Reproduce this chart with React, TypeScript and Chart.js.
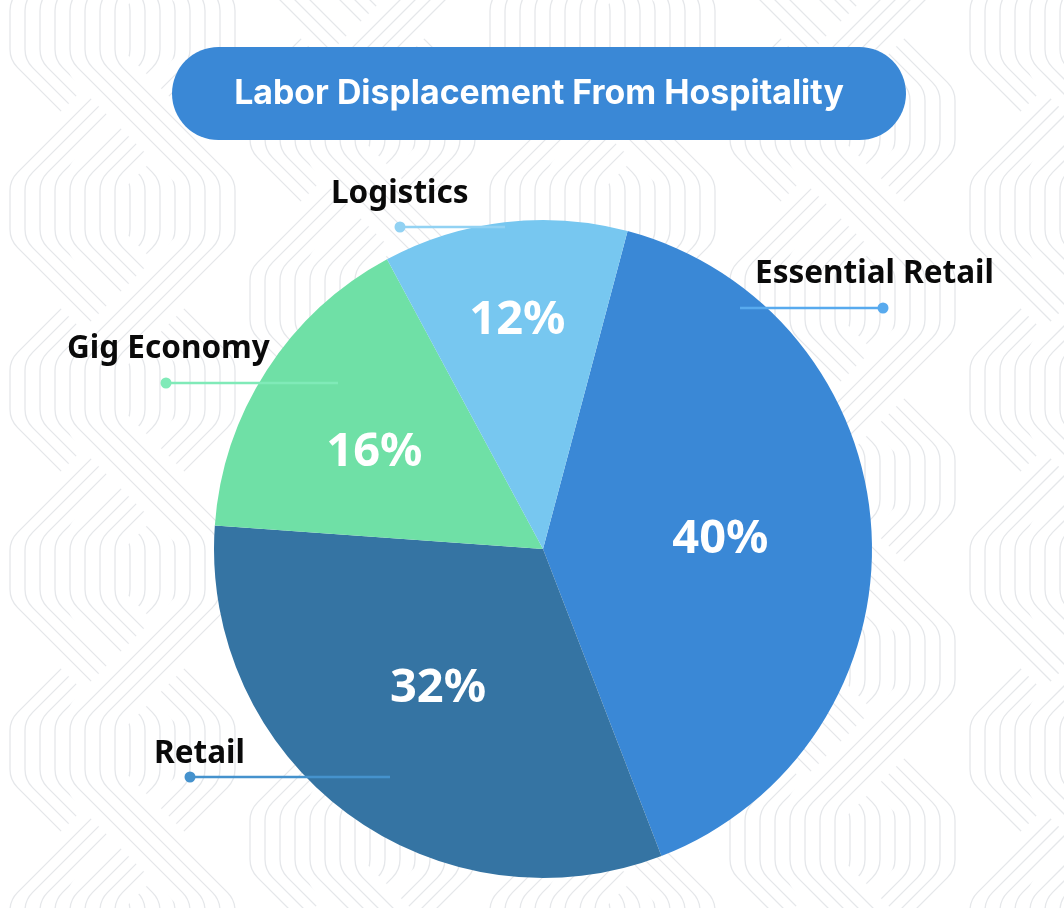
import { useEffect, useRef } from 'react';
import { Chart, registerables } from 'chart.js';

Chart.register(...registerables);

const TITLE = 'Labor Displacement From Hospitality';
const categories = ['Essential Retail', 'Retail', 'Gig Economy', 'Logistics'];
const shares = [40, 32, 16, 12];
const valueLabels = ['40%', '32%', '16%', '12%'];
const sliceColors = ['#3a88d6', '#3574a3', '#6fe0a6', '#77c7f0'];
const leaderColors = ['#58aaee', '#4592cd', '#80eab8', '#92d2f3'];

// label layout relative to pie centre (px at reference radius 329)
const REF_R = 329;
const valueRadiusFrac = [0.54, 0.53, 0.59, 0.7];
const valueAngleShift = [0, 0.5, -3.2, 0.3];
const leaderLayout = [
  { tx: 212, ty: -266, lx1: 197, lx2: 340, ly: -241, dotEnd: true },
  { tx: -389, ty: 214, lx1: -353, lx2: -153, ly: 228, dotEnd: false },
  { tx: -476, ty: -191, lx1: -377, lx2: -205, ly: -166, dotEnd: false },
  { tx: -212, ty: -346, lx1: -143, lx2: -38, ly: -322, dotEnd: false },
];

function roundedPath(ctx: CanvasRenderingContext2D, pts: number[][], r: number) {
  ctx.beginPath();
  ctx.moveTo(pts[0][0], pts[0][1]);
  for (let i = 1; i < pts.length - 1; i++) {
    ctx.arcTo(pts[i][0], pts[i][1], pts[i + 1][0], pts[i + 1][1], r);
  }
  ctx.lineTo(pts[pts.length - 1][0], pts[pts.length - 1][1]);
}

function drawPattern(ctx: CanvasRenderingContext2D, w: number, h: number) {
  ctx.save();
  ctx.fillStyle = '#ffffff';
  ctx.fillRect(0, 0, w, h);
  const col = 60;
  const V = 60;
  const S = 2 * col;
  const period = 2 * (V + S);
  const gap = 15;
  const nGroups = Math.ceil(w / (4 * col)) + 2;
  for (let g = -1; g < nGroups; g++) {
    for (let pr = 0; pr < 2; pr++) {
      const x0 = g * 4 * col + pr * col + 32.5;
      const phase = pr * (period / 2) - period + ((g % 2) * period) / 4;
      for (let s = 0; s < 2; s++) {
        const pts: number[][] = [];
        let y = phase - period;
        let x = s === 0 ? x0 : x0 + S;
        let d = s === 0 ? 1 : -1;
        pts.push([x, y]);
        while (y < h + period) {
          y += V;
          pts.push([x, y]);
          x += d * S;
          y += S;
          pts.push([x, y]);
          d = -d;
        }
        roundedPath(ctx, pts, 26);
        ctx.strokeStyle = '#ffffff';
        ctx.lineWidth = gap * 3 + 12;
        ctx.stroke();
        ctx.strokeStyle = '#e5e7ea';
        ctx.lineWidth = 1.3;
        for (let k = 0; k < 4; k++) {
          const off = (k - 1.5) * gap;
          roundedPath(
            ctx,
            pts.map((q) => [q[0] + off, q[1]]),
            26
          );
          ctx.stroke();
        }
      }
    }
  }
  ctx.restore();
}

const decorPlugin = {
  id: 'decor',
  beforeDraw(chart: any) {
    const ctx: CanvasRenderingContext2D = chart.ctx;
    drawPattern(ctx, chart.width, chart.height);
    const x1 = 172, x2 = 906, y1 = 47, y2 = 140;
    const r = (y2 - y1) / 2;
    ctx.save();
    ctx.fillStyle = '#3a88d6';
    ctx.beginPath();
    ctx.moveTo(x1 + r, y1);
    ctx.lineTo(x2 - r, y1);
    ctx.arc(x2 - r, y1 + r, r, -Math.PI / 2, Math.PI / 2);
    ctx.lineTo(x1 + r, y2);
    ctx.arc(x1 + r, y1 + r, r, Math.PI / 2, Math.PI * 1.5);
    ctx.closePath();
    ctx.fill();
    ctx.font = 'bold 100px Inter, "Noto Sans", sans-serif';
    const wAt100 = ctx.measureText(TITLE).width;
    const size = (100 * 610) / wAt100;
    ctx.font = `bold ${size}px Inter, "Noto Sans", sans-serif`;
    ctx.fillStyle = '#ffffff';
    ctx.textAlign = 'center';
    ctx.textBaseline = 'alphabetic';
    ctx.fillText(TITLE, 539, 104);
    ctx.restore();
  },
  afterDatasetsDraw(chart: any) {
    const ctx: CanvasRenderingContext2D = chart.ctx;
    const arcs = chart.getDatasetMeta(0).data;
    ctx.save();
    ctx.font = 'bold 47px "Noto Sans", sans-serif';
    ctx.fillStyle = '#ffffff';
    ctx.textAlign = 'center';
    ctx.textBaseline = 'middle';
    arcs.forEach((a: any, i: number) => {
      const { x, y, startAngle, endAngle, outerRadius } = a.getProps(
        ['x', 'y', 'startAngle', 'endAngle', 'outerRadius'],
        true
      );
      const mid = (startAngle + endAngle) / 2 + (valueAngleShift[i] * Math.PI) / 180;
      const rr = outerRadius * valueRadiusFrac[i];
      ctx.fillText(valueLabels[i], x + Math.cos(mid) * rr, y + Math.sin(mid) * rr);
    });
    const a0 = arcs[0];
    const { x: cx, y: cy, outerRadius: R } = a0.getProps(['x', 'y', 'outerRadius'], true);
    const k = R / REF_R;
    ctx.textAlign = 'left';
    ctx.textBaseline = 'alphabetic';
    ctx.font = 'bold 31.5px "Noto Sans", sans-serif';
    leaderLayout.forEach((L, i) => {
      const ly = cy + L.ly * k;
      const xa = cx + L.lx1 * k;
      const xb = cx + L.lx2 * k;
      ctx.strokeStyle = leaderColors[i];
      ctx.lineWidth = 2.5;
      ctx.beginPath();
      ctx.moveTo(xa, ly);
      ctx.lineTo(xb, ly);
      ctx.stroke();
      ctx.fillStyle = leaderColors[i];
      ctx.beginPath();
      ctx.arc(L.dotEnd ? xb : xa, ly, 5.5, 0, Math.PI * 2);
      ctx.fill();
      ctx.fillStyle = '#0a0a0a';
      ctx.fillText(categories[i], cx + L.tx * k, cy + L.ty * k);
    });
    ctx.restore();
  },
};

export default function App() {
  const ref = useRef<HTMLCanvasElement | null>(null);
  useEffect(() => {
    if (!ref.current) return;
    const chart = new Chart(ref.current, {
      type: 'pie',
      data: {
        labels: categories,
        datasets: [
          {
            data: shares,
            backgroundColor: sliceColors,
            borderWidth: 0,
          },
        ],
      },
      options: {
        responsive: false,
        animation: false,
        devicePixelRatio: 1,
        rotation: 14.9,
        layout: { padding: { left: 214, right: 192, top: 220, bottom: 30 } },
        plugins: {
          legend: { display: false },
          tooltip: { enabled: false },
          title: { display: false },
        },
      },
      plugins: [decorPlugin],
    });
    return () => chart.destroy();
  }, []);
  return (
    <div style={{ position: 'absolute', left: 0, top: 0, width: 1064, height: 908 }}>
      <canvas ref={ref} width={1064} height={908} style={{ display: 'block' }} />
    </div>
  );
}
